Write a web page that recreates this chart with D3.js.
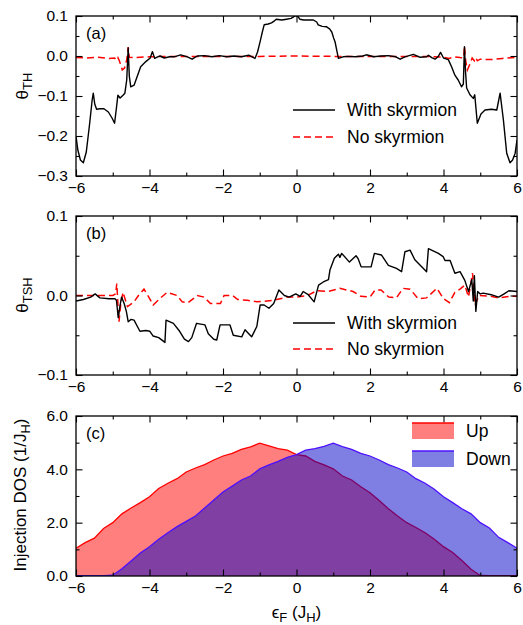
<!DOCTYPE html>
<html>
<head>
<meta charset="utf-8">
<script src="https://cdn.jsdelivr.net/npm/d3@7"></script>
<style>
  body { margin: 0; background: #fff; }
  svg { display: block; font-family: "Liberation Sans", Arial, sans-serif; }
</style>
</head>
<body>
<svg id="chart" width="523" height="625"></svg>
<script>
// x axis (Fermi energy) ticks
var xMajor = [-6, -4, -2, 0, 2, 4, 6],
    xMinor = [-5, -3, -1, 1, 3, 5];

// (a) topological Hall angle, [eF, theta]
var thWith = [[-6.0,-0.20],[-5.95,-0.235],[-5.88,-0.26],[-5.80,-0.267],[-5.72,-0.24],[-5.63,-0.17],[-5.56,-0.11],[-5.53,-0.093],[-5.49,-0.12],[-5.44,-0.133],[-5.35,-0.132],[-5.24,-0.132],[-5.12,-0.14],[-5.02,-0.155],[-4.95,-0.168],[-4.90,-0.13],[-4.86,-0.098],[-4.80,-0.105],[-4.72,-0.098],[-4.67,-0.093],[-4.62,-0.06],[-4.58,0.02],[-4.55,-0.05],[-4.51,-0.077],[-4.42,-0.073],[-4.33,-0.05],[-4.24,-0.027],[-4.10,-0.014],[-3.98,-0.005],[-3.92,0.011],[-3.86,-0.006],[-3.78,-0.002],[-3.71,0.0],[-3.6,-0.005],[-3.45,-0.002],[-3.33,-0.002],[-3.15,0.003],[-2.97,-0.002],[-2.84,-0.008],[-2.7,0.0],[-2.5,0.001],[-2.3,-0.002],[-2.1,0.001],[-1.9,-0.002],[-1.7,0.0],[-1.5,-0.002],[-1.3,0.002],[-1.13,-0.006],[-1.06,0.01],[-0.99,0.036],[-0.93,0.06],[-0.88,0.078],[-0.77,0.08],[-0.68,0.083],[-0.6,0.088],[-0.55,0.092],[-0.4,0.09],[-0.27,0.092],[-0.15,0.094],[-0.09,0.097],[-0.03,0.102],[0.03,0.1],[0.09,0.092],[0.2,0.09],[0.35,0.09],[0.46,0.09],[0.55,0.085],[0.59,0.078],[0.7,0.074],[0.82,0.073],[0.9,0.068],[0.96,0.06],[1.01,0.045],[1.05,0.035],[1.1,0.012],[1.14,-0.006],[1.27,-0.002],[1.4,-0.001],[1.6,-0.002],[1.8,0.0],[1.9,0.003],[2.1,-0.002],[2.3,0.0],[2.5,0.001],[2.7,-0.002],[2.82,-0.008],[2.95,-0.002],[3.18,0.004],[3.35,-0.003],[3.54,-0.002],[3.59,0.002],[3.68,-0.004],[3.77,-0.008],[3.85,-0.002],[3.92,0.009],[4.0,-0.005],[4.13,-0.009],[4.22,-0.027],[4.31,-0.048],[4.40,-0.06],[4.49,-0.077],[4.54,-0.07],[4.57,0.023],[4.60,-0.04],[4.63,-0.08],[4.72,-0.097],[4.81,-0.106],[4.85,-0.097],[4.92,-0.168],[5.02,-0.145],[5.13,-0.135],[5.3,-0.133],[5.45,-0.135],[5.54,-0.093],[5.59,-0.13],[5.63,-0.16],[5.72,-0.243],[5.81,-0.267],[5.88,-0.26],[5.95,-0.243],[6.0,-0.21]];
var thNo = [[-6,-0.004],[-5.7,-0.005],[-5.4,-0.003],[-5.1,-0.006],[-4.95,-0.005],[-4.9,-0.01],[-4.86,-0.004],[-4.82,-0.012],[-4.74,-0.035],[-4.68,-0.03],[-4.62,-0.01],[-4.58,0.022],[-4.55,-0.003],[-4.4,-0.004],[-4.0,-0.002],[-3.5,-0.001],[-3.0,-0.001],[-2.0,-0.001],[-1.0,-0.001],[0,0.0],[1.0,-0.001],[2.0,-0.001],[3.0,-0.001],[3.5,-0.001],[4.0,-0.003],[4.15,-0.006],[4.3,-0.002],[4.45,-0.004],[4.55,-0.005],[4.57,0.025],[4.6,-0.01],[4.65,-0.035],[4.72,-0.02],[4.78,-0.005],[4.84,-0.012],[4.88,-0.004],[4.92,-0.012],[5.0,-0.008],[5.3,-0.009],[5.6,-0.006],[6,-0.003]];

// (b) topological spin Hall angle
var tshWith = [[-6,-0.007],[-5.8,-0.005],[-5.6,-0.002],[-5.48,0.002],[-5.35,-0.003],[-5.1,-0.004],[-4.94,-0.004],[-4.9,-0.006],[-4.85,-0.028],[-4.8,-0.012],[-4.76,-0.002],[-4.69,-0.01],[-4.63,-0.02],[-4.58,-0.033],[-4.5,-0.03],[-4.42,-0.031],[-4.33,-0.039],[-4.26,-0.045],[-4.1,-0.044],[-3.99,-0.045],[-3.9,-0.051],[-3.75,-0.053],[-3.58,-0.059],[-3.55,-0.031],[-3.35,-0.035],[-3.18,-0.045],[-3.05,-0.055],[-2.94,-0.058],[-2.85,-0.053],[-2.72,-0.035],[-2.49,-0.037],[-2.4,-0.048],[-2.25,-0.055],[-2.17,-0.056],[-2.08,-0.037],[-1.81,-0.037],[-1.72,-0.05],[-1.49,-0.052],[-1.40,-0.043],[-1.3,-0.048],[-1.22,-0.052],[-1.08,-0.039],[-0.99,-0.012],[-0.88,-0.012],[-0.75,-0.016],[-0.62,-0.01],[-0.48,0.007],[-0.33,0.0],[-0.2,-0.002],[-0.02,0.002],[0.1,-0.001],[0.18,0.005],[0.32,0.001],[0.48,-0.008],[0.6,0.013],[0.73,0.017],[0.87,0.02],[0.91,0.032],[1.03,0.047],[1.14,0.052],[1.18,0.048],[1.23,0.053],[1.44,0.042],[1.62,0.05],[1.68,0.046],[1.76,0.036],[2.03,0.036],[2.12,0.053],[2.31,0.051],[2.5,0.038],[2.72,0.034],[2.86,0.03],[2.95,0.055],[3.09,0.057],[3.22,0.045],[3.54,0.03],[3.59,0.059],[3.86,0.053],[3.99,0.049],[4.04,0.044],[4.18,0.044],[4.31,0.028],[4.45,0.03],[4.58,0.019],[4.68,0.005],[4.77,0.02],[4.81,-0.007],[4.84,0.025],[4.88,-0.02],[4.93,0.005],[5.0,0.002],[5.08,0.003],[5.3,0.001],[5.5,-0.002],[5.65,0.002],[5.78,0.006],[6,0.005]];
var tshNo = [[-6,0.0],[-5.5,0.0],[-5.0,0.0],[-4.92,0.002],[-4.89,0.015],[-4.86,-0.01],[-4.83,-0.033],[-4.78,-0.01],[-4.72,0.004],[-4.66,-0.005],[-4.6,-0.014],[-4.42,-0.008],[-4.3,0.0],[-4.15,0.008],[-4.02,-0.002],[-3.9,-0.012],[-3.7,-0.003],[-3.52,0.004],[-3.25,0.0],[-3.11,-0.008],[-2.95,-0.009],[-2.7,0.0],[-2.52,-0.002],[-2.34,-0.01],[-2.07,-0.01],[-1.97,0.0],[-1.74,0.0],[-1.6,-0.005],[-1.34,-0.006],[-1.07,-0.008],[-0.62,-0.006],[-0.25,-0.002],[0,-0.002],[0.3,0.0],[0.55,0.006],[0.85,0.005],[1.18,0.009],[1.54,0.005],[1.75,-0.001],[2.0,-0.002],[2.14,0.007],[2.3,0.007],[2.51,-0.002],[2.72,-0.003],[2.9,0.009],[3.09,0.008],[3.31,-0.004],[3.54,-0.003],[3.82,0.009],[4.0,-0.004],[4.16,-0.009],[4.31,0.004],[4.45,0.008],[4.58,0.013],[4.68,-0.002],[4.79,0.028],[4.86,-0.012],[4.96,0.0],[5.29,-0.001],[5.5,-0.003],[5.82,-0.001],[6,-0.001]];

// (c) injection DOS, sampled every 0.25 J_H from -6 to 6
var dosE = [-6,-5.75,-5.5,-5.25,-5,-4.75,-4.5,-4.25,-4,-3.75,-3.5,-3.25,-3,-2.75,-2.5,-2.25,-2,-1.75,-1.5,-1.25,-1,-0.75,-0.5,-0.25,0,0.25,0.5,0.75,1,1.25,1.5,1.75,2,2.25,2.5,2.75,3,3.25,3.5,3.75,4,4.25,4.5,4.75,5,5.25,5.5,5.75,6];
var dosUp = [1.04,1.25,1.42,1.78,2.0,2.33,2.55,2.75,2.97,3.28,3.48,3.65,3.9,4.05,4.18,4.35,4.5,4.6,4.75,4.84,4.98,4.88,4.78,4.72,4.55,4.5,4.3,4.17,4.02,3.75,3.6,3.35,3.12,2.83,2.52,2.25,2.0,1.82,1.62,1.38,1.1,0.88,0.58,0.25,0.02,0.01,0.01,0.01,0.01];
var dosDown = [0.01,0.01,0.01,0.01,0.03,0.27,0.56,0.86,1.1,1.38,1.62,1.85,2.05,2.25,2.55,2.85,3.15,3.37,3.6,3.75,4.02,4.17,4.3,4.45,4.55,4.72,4.78,4.86,4.98,4.85,4.75,4.6,4.5,4.35,4.18,4.05,3.9,3.65,3.48,3.25,2.97,2.75,2.52,2.33,2.0,1.8,1.45,1.25,1.04];

var left = 76, right = 517,
    tickMajor = 6.5, tickMinor = 3.5,
    redLine = '#ff0000', blueLine = '#4d10ff';

var svg = d3.select('#chart');
var x = d3.scaleLinear().domain([-6, 6]).range([left, right]);

var panels = [
  { id: 'a', top: 16, bottom: 176, dom: [-0.3, 0.1], major: [-0.3, -0.2, -0.1, 0, 0.1], minor: [-0.25, -0.15, -0.05, 0.05] },
  { id: 'b', top: 216, bottom: 375, dom: [-0.1, 0.1], major: [-0.1, 0, 0.1], minor: [-0.05, 0.05] },
  { id: 'c', top: 416, bottom: 576, dom: [0, 6], major: [0, 2, 4, 6], minor: [1, 3, 5] }
];

panels.forEach(function (p) {
  p.y = d3.scaleLinear().domain(p.dom).range([p.bottom, p.top]);
  svg.append('clipPath').attr('id', 'clip-' + p.id)
    .append('rect')
    .attr('x', left).attr('y', p.top)
    .attr('width', right - left).attr('height', p.bottom - p.top);
  p.g = svg.append('g').attr('class', 'panel-' + p.id);
  p.plot = p.g.append('g').attr('clip-path', 'url(#clip-' + p.id + ')');
});

// panel (c) areas, blue drawn over red
var pc = panels[2];
var upData = dosE.map(function (e, i) { return [e, dosUp[i]]; });
var downData = dosE.map(function (e, i) { return [e, dosDown[i]]; });
var area = d3.area().x(function (d) { return x(d[0]); }).y0(pc.y(0)).y1(function (d) { return pc.y(d[1]); });
var areaLine = d3.line().x(function (d) { return x(d[0]); }).y(function (d) { return pc.y(d[1]); });

pc.plot.append('path').datum(upData).attr('d', area).attr('fill', 'rgba(255,0,0,0.5)');
pc.plot.append('path').datum(upData).attr('d', areaLine).attr('fill', 'none').attr('stroke', redLine).attr('stroke-width', 1.3);
pc.plot.append('path').datum(downData).attr('d', area).attr('fill', 'rgba(0,0,200,0.5)');
pc.plot.append('path').datum(downData).attr('d', areaLine).attr('fill', 'none').attr('stroke', blueLine).attr('stroke-width', 1.3);

// line panels
function drawLines(p, withData, noData) {
  var line = d3.line().x(function (d) { return x(d[0]); }).y(function (d) { return p.y(d[1]); });
  p.plot.append('path').datum(noData).attr('d', line)
    .attr('fill', 'none').attr('stroke', redLine).attr('stroke-width', 1.5)
    .attr('stroke-dasharray', '7,4');
  p.plot.append('path').datum(withData).attr('d', line)
    .attr('fill', 'none').attr('stroke', '#000').attr('stroke-width', 1.4)
    .attr('stroke-linejoin', 'round');
}
drawLines(panels[0], thWith, thNo);
drawLines(panels[1], tshWith, tshNo);

// axes, ticks pointing inward on all four sides
panels.forEach(function (p) {
  var g = p.g;
  g.append('g').attr('transform', 'translate(0,' + p.bottom + ')')
    .call(d3.axisBottom(x).tickValues(xMajor).tickSize(-tickMajor).tickPadding(6).tickFormat(d3.format('d')));
  g.append('g').attr('transform', 'translate(0,' + p.bottom + ')')
    .call(d3.axisBottom(x).tickValues(xMinor).tickSize(-tickMinor).tickFormat(''));
  g.append('g').attr('transform', 'translate(0,' + p.top + ')')
    .call(d3.axisTop(x).tickValues(xMajor).tickSize(-tickMajor).tickFormat(''));
  g.append('g').attr('transform', 'translate(0,' + p.top + ')')
    .call(d3.axisTop(x).tickValues(xMinor).tickSize(-tickMinor).tickFormat(''));
  g.append('g').attr('transform', 'translate(' + left + ',0)')
    .call(d3.axisLeft(p.y).tickValues(p.major).tickSize(-tickMajor).tickPadding(8).tickFormat(d3.format('.1f')));
  g.append('g').attr('transform', 'translate(' + left + ',0)')
    .call(d3.axisLeft(p.y).tickValues(p.minor).tickSize(-tickMinor).tickFormat(''));
  g.append('g').attr('transform', 'translate(' + right + ',0)')
    .call(d3.axisRight(p.y).tickValues(p.major).tickSize(-tickMajor).tickFormat(''));
  g.append('g').attr('transform', 'translate(' + right + ',0)')
    .call(d3.axisRight(p.y).tickValues(p.minor).tickSize(-tickMinor).tickFormat(''));

  g.selectAll('.domain').remove();
  g.selectAll('.tick line').attr('stroke', '#000').attr('stroke-width', 1.1);
  g.selectAll('.tick text').attr('font-size', 15.5).attr('fill', '#000')
    .attr('font-family', '"Liberation Sans", Arial, sans-serif');

  g.append('rect')
    .attr('x', left).attr('y', p.top)
    .attr('width', right - left).attr('height', p.bottom - p.top)
    .attr('fill', 'none').attr('stroke', '#000').attr('stroke-width', 1.3);

  g.append('text')
    .attr('x', 86).attr('y', p.top + 23)
    .attr('font-size', 16.5).text('(' + p.id + ')');
});

// y axis titles
function yTitle(cx, cy, main, sub, tail) {
  var t = svg.append('text')
    .attr('transform', 'translate(' + cx + ',' + cy + ') rotate(-90)')
    .attr('text-anchor', 'middle').attr('font-size', 17);
  t.append('tspan').text(main);
  t.append('tspan').attr('dy', 4).attr('font-size', 13).text(sub);
  if (tail) t.append('tspan').attr('dy', -4).text(tail);
}
yTitle(28, 86, 'θ', 'TH');
yTitle(28, 295, 'θ', 'TSH');
yTitle(26, 495, 'Injection DOS (1/J', 'H', ')');

// x axis title
var xt = svg.append('text')
  .attr('x', x(0)).attr('y', 618)
  .attr('text-anchor', 'middle').attr('font-size', 17);
xt.append('tspan').text('ϵ');
xt.append('tspan').attr('dy', 4).attr('font-size', 13).text('F');
xt.append('tspan').attr('dy', -4).text(' (J');
xt.append('tspan').attr('dy', 4).attr('font-size', 13).text('H');
xt.append('tspan').attr('dy', -4).text(')');

// legends for the line panels
function lineLegend(y1, y2) {
  svg.append('line').attr('x1', 293).attr('x2', 335).attr('y1', y1).attr('y2', y1)
    .attr('stroke', '#000').attr('stroke-width', 1.4);
  svg.append('line').attr('x1', 293).attr('x2', 335).attr('y1', y2).attr('y2', y2)
    .attr('stroke', redLine).attr('stroke-width', 1.5).attr('stroke-dasharray', '7,4');
  svg.append('text').attr('x', 347).attr('y', y1).attr('dy', '0.36em')
    .attr('font-size', 17.5).text('With skyrmion');
  svg.append('text').attr('x', 347).attr('y', y2).attr('dy', '0.36em')
    .attr('font-size', 17.5).text('No skyrmion');
}
lineLegend(110, 137);
lineLegend(323, 349);

// legend for DOS panel
var dosLegend = [
  { name: 'Up', fill: 'rgba(255,0,0,0.5)', stroke: redLine, y: 423 },
  { name: 'Down', fill: 'rgba(0,0,200,0.5)', stroke: blueLine, y: 451 }
];
dosLegend.forEach(function (d) {
  svg.append('rect').attr('x', 412).attr('y', d.y).attr('width', 42).attr('height', 16)
    .attr('fill', d.fill);
  svg.append('line').attr('x1', 412).attr('x2', 454).attr('y1', d.y).attr('y2', d.y)
    .attr('stroke', d.stroke).attr('stroke-width', 1.3);
  svg.append('text').attr('x', 466).attr('y', d.y + 8).attr('dy', '0.36em')
    .attr('font-size', 17.5).text(d.name);
});
</script>
</body>
</html>
